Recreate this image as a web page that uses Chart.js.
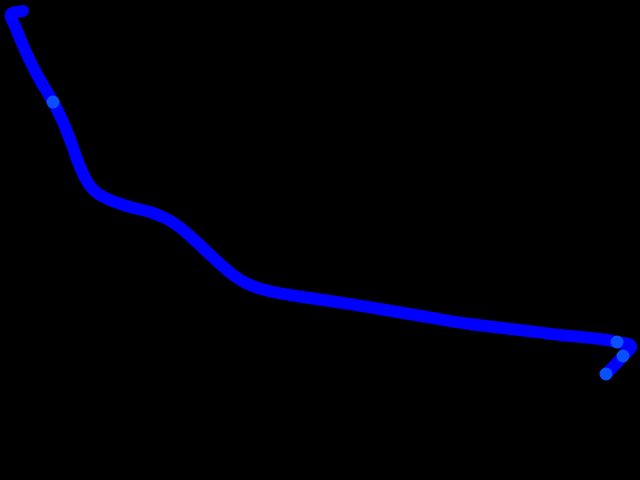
<!DOCTYPE html>
<html>
<head>
<meta charset="utf-8">
<script src="https://cdn.jsdelivr.net/npm/chart.js@4"></script>
<style>
  html, body { margin: 0; padding: 0; background: #000; }
  #wrap { width: 640px; height: 480px; }
</style>
</head>
<body>
<div id="wrap"><canvas id="myChart" width="640" height="480"></canvas></div>
<script>
// Trazo (x hacia la derecha, y hacia abajo)
const strokeX = [23, 11, 15, 22, 30, 40, 53, 63, 72, 80, 88, 97, 110, 130, 150, 165, 178, 190, 203, 218, 233, 248, 265, 290, 330, 380, 427, 470, 520, 560, 600, 617, 631, 623, 615, 606];
const strokeY = [11, 14, 26, 43, 61, 80, 102, 122, 145, 167, 183, 193, 200, 207, 212, 218, 226, 236, 248, 262, 275, 284, 290, 295, 301, 309, 317, 324, 330, 335, 339, 342, 346, 356, 365, 374];

// Puntos más claros sobre el trazo
const dotX = [53, 617, 623, 606];
const dotY = [102, 342, 356, 374];

const toPoints = (xs, ys) => xs.map((x, i) => ({ x: x, y: ys[i] }));

new Chart(document.querySelector('#myChart'), {
    type: 'scatter',
    data: {
        datasets: [{
            data: toPoints(dotX, dotY),
            showLine: false,
            pointRadius: 6.5,
            pointBorderWidth: 0,
            pointBackgroundColor: 'rgb(10, 80, 255)',
            order: 0
        }, {
            data: toPoints(strokeX, strokeY),
            showLine: true,
            borderColor: 'rgb(0, 0, 255)',
            borderWidth: 12,
            borderCapStyle: 'round',
            borderJoinStyle: 'round',
            tension: 0.4,
            pointRadius: 0,
            order: 1
        }]
    },
    options: {
        responsive: false,
        animation: false,
        layout: { padding: 0, autoPadding: false },
        scales: {
            x: { type: 'linear', min: 0, max: 640, display: false },
            y: { type: 'linear', min: 0, max: 480, reverse: true, display: false }
        },
        plugins: {
            legend: { display: false },
            tooltip: { enabled: false }
        }
    }
});
</script>
</body>
</html>
